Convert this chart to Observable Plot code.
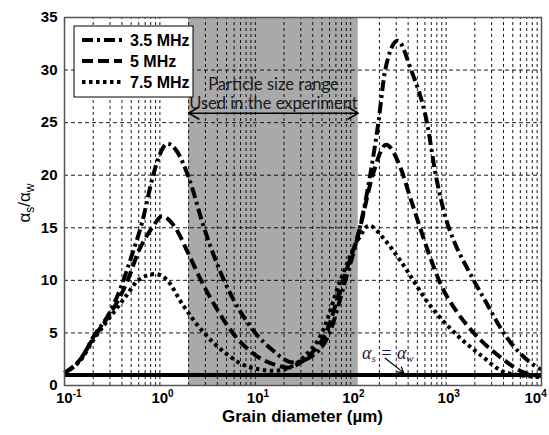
<!DOCTYPE html>
<html><head><meta charset="utf-8">
<script src="https://cdn.jsdelivr.net/npm/d3@7"></script>
<script src="https://cdn.jsdelivr.net/npm/@observablehq/plot@0.6"></script>
<style>
html,body{margin:0;padding:0;background:#fff;}
#chart{width:549px;height:435px;}
</style></head><body><div id="chart"></div>
<script>
// ---- data ----
const seriesNames = ["3.5 MHz", "5 MHz", "7.5 MHz"];

const diam35 = [0.1, 0.15, 0.2, 0.3, 0.4, 0.5, 0.65, 0.85, 1.0, 1.2, 1.5, 2.0, 2.9, 4.7, 7, 10, 15, 25, 36, 60, 88, 125, 160, 195, 230, 310, 430, 630, 780, 1000, 1200, 1700, 2450, 4300, 8300, 10000];
const ratio35 = [1.2, 2.6, 4.6, 7.0, 9.6, 12.2, 15.5, 20.0, 22.0, 23.0, 22.3, 19.8, 15.0, 10.0, 7.0, 5.0, 3.4, 2.2, 2.6, 5.0, 10.0, 15.0, 20.0, 25.0, 30.0, 32.8, 30.0, 25.0, 20.0, 15.8, 13.8, 11.0, 8.4, 4.6, 1.95, 1.5];

const diam5 = [0.1, 0.15, 0.2, 0.3, 0.46, 0.6, 0.83, 1.05, 1.45, 2.0, 2.7, 4, 5.8, 10, 17, 22, 30, 40, 55, 83, 125, 170, 235, 330, 430, 740, 870, 1300, 1950, 3700, 6500, 10000];
const ratio5 = [1.2, 2.6, 4.5, 6.8, 10.0, 12.8, 15.0, 16.1, 15.0, 12.5, 10.0, 7.2, 5.0, 2.9, 1.9, 1.7, 2.2, 3.2, 5.0, 10.0, 15.0, 20.0, 22.9, 20.8, 17.6, 11.3, 9.7, 7.0, 5.0, 2.7, 1.25, 0.9];

const diam75 = [0.1, 0.15, 0.2, 0.3, 0.45, 0.59, 0.89, 1.2, 1.7, 2.9, 5, 8.3, 16, 24, 33, 50, 78, 122, 155, 230, 330, 680, 1300, 2300, 4300, 10000];
const ratio75 = [1.2, 2.5, 4.3, 6.5, 8.6, 10.0, 10.6, 10.0, 7.8, 5.0, 3.0, 1.8, 1.4, 1.8, 2.8, 5.0, 10.0, 14.0, 15.2, 13.8, 11.9, 7.6, 4.8, 2.9, 1.2, 0.8];

const xTicks = [0.1, 1, 10, 100, 1000, 10000];
const xTickExponents = ["-1", "0", "1", "2", "3", "4"];
const yTicks = [0, 5, 10, 15, 20, 25, 30, 35];
const xGrid = [0.2,0.3,0.4,0.5,0.6,0.7,0.8,0.9,1,2,3,4,5,6,7,8,9,10,20,30,40,50,60,70,80,90,100,200,300,400,500,600,700,800,900,1000,2000,3000,4000,5000,6000,7000,8000,9000];
const yGrid = [5, 10, 15, 20, 25, 30];
const experimentRange = [2, 120];          // µm
const rangeArrowY = [25.9];
const rangeArrowMid = [15.5];
const rangeText = ["Particle size range", "Used in the experiment"];
const rangeTextY = [28.6, 26.8];
const unityRatio = [1];
const unityArrow = [{x1: 230, y1: 2.6, x2: 360, y2: 1.2}];
const unityLabelPos = [133, 2.5];

const dashes = {"3.5 MHz": "11,4,3,4", "5 MHz": "11,5", "7.5 MHz": "3.5,3.5"};

const rows = [];
diam35.forEach((x, i) => rows.push({s: "3.5 MHz", x, y: ratio35[i]}));
diam5.forEach((x, i) => rows.push({s: "5 MHz", x, y: ratio5[i]}));
diam75.forEach((x, i) => rows.push({s: "7.5 MHz", x, y: ratio75[i]}));

const W = 549, H = 435;
const plot = Plot.plot({
  width: W, height: H,
  marginLeft: 64, marginRight: 8, marginTop: 17, marginBottom: 50,
  style: {fontFamily: "'Liberation Sans', Arial, sans-serif", fontSize: "15px", fontWeight: "bold", color: "#000", background: "#fff"},
  x: {type: "log", domain: [0.1, 10000]},
  y: {domain: [0, 35]},
  marks: [
    Plot.rect([experimentRange], {x1: d => d[0], x2: d => d[1], y1: 0, y2: 35, fill: "#a9a9a9"}),
    Plot.ruleX(xGrid, {y1: 0, y2: 35, stroke: "#000", strokeWidth: 0.9, strokeDasharray: "3,3"}),
    Plot.ruleY(yGrid, {stroke: "#000", strokeWidth: 0.9, strokeDasharray: "4,3"}),
    ...seriesNames.map(s => Plot.line(rows.filter(r => r.s === s), {
      x: "x", y: "y", stroke: "#000", strokeWidth: 4, strokeDasharray: dashes[s],
      strokeLinecap: "butt", strokeLinejoin: "round", curve: "monotone-x"
    })),
    Plot.ruleY(unityRatio, {stroke: "#000", strokeWidth: 4}),
    Plot.frame({stroke: "#555", strokeWidth: 1.5}),
    Plot.axisX(xTicks, {tickSize: 0, tickPadding: 7, label: null, tickFormat: () => "10"}),
    Plot.axisY(yTicks, {tickSize: 0, tickPadding: 7, label: null}),
    Plot.arrow([0, 1], {x1: () => rangeArrowMid[0], x2: (d, i) => experimentRange[i], y1: rangeArrowY[0], y2: rangeArrowY[0], stroke: "#000", strokeWidth: 1.6, headLength: 11, bend: 0}),
    Plot.text(rangeText, {x: rangeArrowMid[0], y: (d, i) => rangeTextY[i], text: d => d, fontFamily: "Lato, 'Open Sans', sans-serif", fontWeight: "normal", fontSize: 16.5, fill: "#1a1a1a"}),
    Plot.arrow(unityArrow, {x1: "x1", y1: "y1", x2: "x2", y2: "y2", stroke: "#000", strokeWidth: 1.2, headLength: 8, bend: 0})
  ]
});
document.getElementById("chart").appendChild(plot);

const svg = d3.select(plot);
const xs = plot.scale("x"), ys = plot.scale("y");

// superscript exponents on x tick labels
svg.selectAll('g[aria-label="x-axis tick label"] text').each(function(d, i) {
  const t = d3.select(this);
  t.text("10").attr("text-anchor", "start").attr("dx", i === xTicks.length - 1 ? "-17" : "-8.5");
  t.append("tspan").attr("dy", "-6").attr("font-size", "10px").text(xTickExponents[i]);
});

// x axis title
svg.append("text").attr("x", (64 + 541) / 2).attr("y", 422).attr("text-anchor", "middle")
  .attr("font-family", "'Liberation Sans', Arial, sans-serif").attr("font-size", 17).attr("font-weight", "bold")
  .text("Grain diameter (\u00b5m)");

// y axis title  αs/αw
const yl = svg.append("text").attr("transform", "translate(30,203) rotate(-90)").attr("text-anchor", "middle")
  .attr("font-family", "'Liberation Sans', Arial, sans-serif").attr("font-size", 17).attr("font-weight", "normal");
yl.append("tspan").text("\u03b1");
yl.append("tspan").attr("dy", 4).attr("font-size", 12).text("s");
yl.append("tspan").attr("dy", -4).text("/\u03b1");
yl.append("tspan").attr("dy", 4).attr("font-size", 12).text("w");

// αs = αw label
const ul = svg.append("text").attr("x", xs.apply(unityLabelPos[0])).attr("y", ys.apply(unityLabelPos[1]))
  .attr("text-anchor", "start")
  .attr("font-family", "'Liberation Serif', 'DejaVu Serif', serif").attr("font-style", "italic")
  .attr("font-size", 18).attr("font-weight", "normal").attr("fill", "#1c1c40");
ul.append("tspan").text("\u03b1");
ul.append("tspan").attr("dy", 3).attr("font-size", 11).text("s");
ul.append("tspan").attr("dy", -3).text(" = \u03b1");
ul.append("tspan").attr("dy", 3).attr("font-size", 11).text("w");

// legend
const lg = svg.append("g").attr("transform", "translate(74,26)");
lg.append("rect").attr("width", 119).attr("height", 71).attr("fill", "#fff").attr("stroke", "#000").attr("stroke-width", 1);
seriesNames.forEach((s, i) => {
  const yy = 14 + i * 21;
  lg.append("line").attr("x1", 8).attr("x2", 48).attr("y1", yy).attr("y2", yy)
    .attr("stroke", "#000").attr("stroke-width", 4).attr("stroke-dasharray", dashes[s]);
  lg.append("text").attr("x", 56).attr("y", yy).attr("dy", "0.35em").attr("text-anchor", "start")
    .attr("font-family", "'Liberation Sans', Arial, sans-serif").attr("font-size", 16).attr("font-weight", "bold")
    .text(s);
});
</script>
</body></html>
